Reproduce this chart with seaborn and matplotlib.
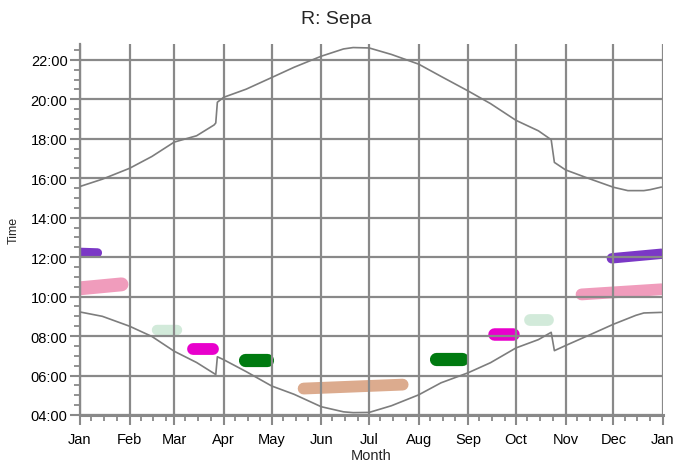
import matplotlib
matplotlib.use("Agg")
import matplotlib.pyplot as plt
import matplotlib.dates as mdates
import matplotlib.ticker as mticker
import pandas as pd
import seaborn as sns

# ---------------- data ----------------
sunset_dates = ["2021-01-01", "2021-01-15", "2021-02-01", "2021-02-15", "2021-03-01",
                "2021-03-15", "2021-03-26", "2021-03-27", "2021-03-28", "2021-04-01",
                "2021-04-15", "2021-05-01", "2021-05-15", "2021-06-01", "2021-06-15",
                "2021-06-21", "2021-07-01", "2021-07-15", "2021-08-01", "2021-08-15",
                "2021-09-01", "2021-09-15", "2021-10-01", "2021-10-15", "2021-10-23",
                "2021-10-25", "2021-11-01", "2021-11-15", "2021-12-01", "2021-12-10",
                "2021-12-20", "2021-12-24", "2021-12-31"]
sunset_hours = [15.58, 15.95, 16.50, 17.10, 17.83,
                18.15, 18.70, 18.80, 19.85, 20.10,
                20.51, 21.10, 21.62, 22.18, 22.55,
                22.62, 22.60, 22.27, 21.78, 21.16,
                20.42, 19.78, 18.93, 18.40, 17.95,
                16.80, 16.42, 16.00, 15.54, 15.37,
                15.37, 15.42, 15.55]

sunrise_dates = ["2021-01-01", "2021-01-15", "2021-02-01", "2021-02-15", "2021-03-01",
                 "2021-03-15", "2021-03-27", "2021-03-28", "2021-04-01", "2021-04-15",
                 "2021-05-01", "2021-05-15", "2021-06-01", "2021-06-15", "2021-06-21",
                 "2021-07-01", "2021-07-15", "2021-08-01", "2021-08-15", "2021-09-01",
                 "2021-09-15", "2021-10-01", "2021-10-15", "2021-10-23", "2021-10-25",
                 "2021-11-01", "2021-11-15", "2021-12-01", "2021-12-15", "2021-12-20",
                 "2021-12-31"]
sunrise_hours = [9.22, 9.00, 8.50, 7.98, 7.23,
                 6.66, 6.05, 6.95, 6.80, 6.20,
                 5.47, 5.05, 4.42, 4.16, 4.12,
                 4.13, 4.47, 5.02, 5.63, 6.14,
                 6.65, 7.40, 7.82, 8.19, 7.26,
                 7.52, 8.02, 8.60, 9.05, 9.17,
                 9.20]

blob_names = ["purple_jan", "pink_jan", "lightgreen_feb", "magenta_mar", "green_apr",
              "tan_summer", "green_aug", "magenta_sep", "lightgreen_oct", "pink_dec",
              "purple_dec"]
blob_colors = ["#7B38C6", "#F09CBC", "#D2EADA", "#E800CC", "#007A10",
               "#DCAB8E", "#007A10", "#E800CC", "#D2EADA", "#F09CBC",
               "#7B38C6"]
blob_start_dates = ["2021-01-01", "2021-01-01", "2021-02-18", "2021-03-13", "2021-04-14",
                    "2021-05-21", "2021-08-12", "2021-09-17", "2021-10-10", "2021-11-11",
                    "2021-11-30"]
blob_end_dates = ["2021-01-12", "2021-01-27", "2021-03-03", "2021-03-25", "2021-04-28",
                  "2021-07-22", "2021-08-28", "2021-09-29", "2021-10-21", "2021-12-31",
                  "2021-12-31"]
blob_start_hours = [12.25, 10.42, 8.29, 7.35, 6.78, 5.34, 6.86, 8.09, 8.83, 10.11, 11.94]
blob_end_hours = [12.22, 10.62, 8.29, 7.35, 6.78, 5.54, 6.86, 8.09, 8.83, 10.37, 12.17]
blob_widths = [6.5, 10.0, 7.5, 8.5, 9.5, 8.5, 9.5, 9.0, 8.5, 8.5, 7.5]

month_labels = ["Jan", "Feb", "Mar", "Apr", "May", "Jun", "Jul", "Aug", "Sep",
                "Oct", "Nov", "Dec", "Jan"]

# ---------------- tables ----------------
sun = pd.concat([
    pd.DataFrame({"date": pd.to_datetime(sunset_dates), "hour": sunset_hours, "curve": "sunset"}),
    pd.DataFrame({"date": pd.to_datetime(sunrise_dates), "hour": sunrise_hours, "curve": "sunrise"}),
], ignore_index=True)

blobs = pd.DataFrame({
    "date": pd.to_datetime(blob_start_dates + blob_end_dates),
    "hour": blob_start_hours + blob_end_hours,
    "blob": blob_names + blob_names,
})

# ---------------- figure ----------------
sns.set_style("white")
plt.rcParams["font.family"] = ["Liberation Sans", "DejaVu Sans"]

fig = plt.figure(figsize=(6.77, 4.64), dpi=100)
ax = fig.add_axes([80 / 677, 1 - 416 / 464, (663 - 80) / 677, (416 - 45) / 464])

grid_col = "#898989"

sns.lineplot(data=blobs, x="date", y="hour", hue="blob", size="blob",
             palette=dict(zip(blob_names, blob_colors)),
             sizes=dict(zip(blob_names, blob_widths)),
             estimator=None, legend=False, ax=ax, zorder=1,
             solid_capstyle="round")

sns.lineplot(data=sun, x="date", y="hour", units="curve", estimator=None,
             color="#7d7d7d", linewidth=1.2, legend=False, ax=ax, zorder=3, sort=False)

ax.set_xlim(pd.Timestamp("2021-01-01"), pd.Timestamp("2022-01-01"))
ax.set_ylim(4, 22.8)

ax.xaxis.set_major_locator(mdates.MonthLocator())
ax.xaxis.set_major_formatter(mticker.FixedFormatter(month_labels))
ax.xaxis.set_minor_locator(mdates.DayLocator(bymonthday=[8, 16, 24]))
ax.yaxis.set_major_locator(mticker.MultipleLocator(2))
ax.yaxis.set_minor_locator(mticker.MultipleLocator(0.5))
ax.yaxis.set_major_formatter(mticker.FuncFormatter(lambda v, p: f"{int(round(v)):02d}:00"))

ax.set_axisbelow(False)
ax.grid(True, which="major", color=grid_col, linewidth=1.6)

for s in ["top", "right"]:
    ax.spines[s].set_visible(False)
ax.spines["left"].set_color(grid_col)
ax.spines["left"].set_linewidth(1.6)
ax.spines["bottom"].set_color(grid_col)
ax.spines["bottom"].set_linewidth(2.2)

ax.tick_params(axis="both", which="both", bottom=True, left=True, top=False, right=False)
ax.tick_params(axis="both", which="major", direction="out", length=7, width=1.5,
               color=grid_col, labelsize=10.5, labelcolor="black", pad=2)
ax.tick_params(axis="both", which="minor", direction="out", length=4, width=1.3,
               color=grid_col)
ax.tick_params(axis="x", which="major", pad=5)

ax.set_xlabel("Month", fontsize=10.5, labelpad=2)
ax.set_ylabel("Time", fontsize=9, labelpad=8)

fig.text(0.497, 1 - 20 / 464, "R: Sepa", ha="center", va="center", fontsize=14)

fig.savefig("out.png", dpi=100)
